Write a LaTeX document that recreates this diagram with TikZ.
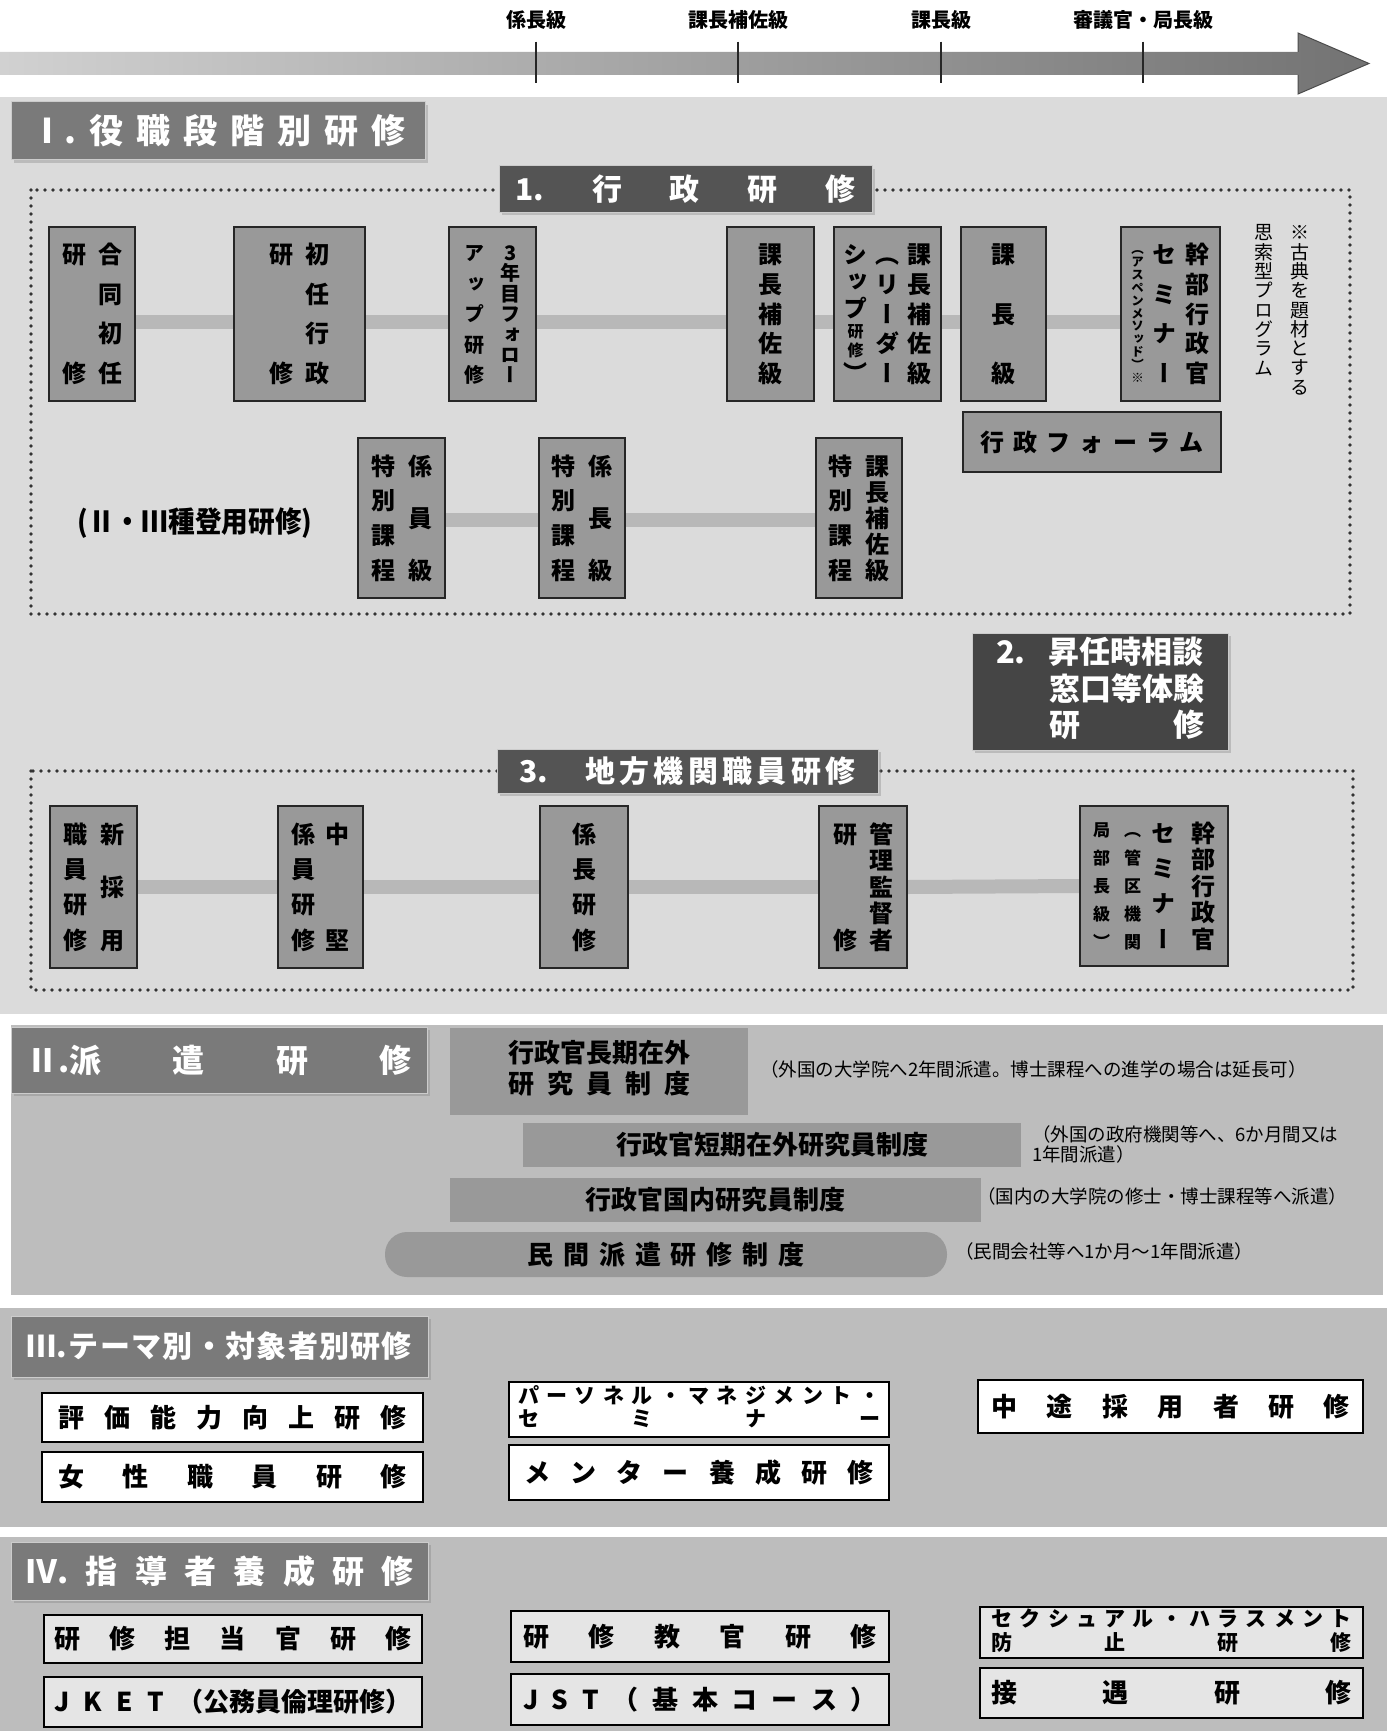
\documentclass[tikz,border=0pt]{standalone}
\usepackage{fontspec}
\usepackage{graphicx}
\setmainfont{Noto Sans CJK JP}
\newfontfamily\vjp{Noto Sans CJK JP}[RawFeature={+vert}]
\usetikzlibrary{shadows}
\pgfdeclarelayer{bglayer}
\pgfdeclarelayer{bandlayer}
\pgfsetlayers{bglayer,bandlayer,main}

\definecolor{secIbg}{gray}{0.86}
\definecolor{secbg}{gray}{0.74}
\definecolor{boxfill}{gray}{0.6}
\definecolor{hdrA}{gray}{0.48}
\definecolor{hdrB}{gray}{0.33}
\definecolor{hdrC}{gray}{0.27}
\definecolor{bandc}{gray}{0.72}
\definecolor{dispfill}{gray}{0.6}
\definecolor{ivfill}{gray}{0.9}
\definecolor{arrowL}{gray}{0.82}
\definecolor{arrowR}{gray}{0.45}

\newcommand\spread[2]{\hbox to #1{#2}}
\newcommand\vfont[1]{\vjp\bfseries\fontsize{#1}{#1}\selectfont}
\newcommand\sm[2]{\fontsize{#1}{#1}\selectfont#2}
\makeatletter
\newdimen\vc@w
\newcommand\vcol[2]{\vc@w=1em\vbox to #1{\offinterlineskip\vc@first#2\relax}}
\def\vc@first#1{\vc@box{#1}\vc@loop}
\def\vc@loop#1{\ifx\relax#1\else\vfill\vc@box{#1}\expandafter\vc@loop\fi}
\def\vc@box#1{\hbox to \vc@w{\hss\begingroup#1\vrule height .88em depth .12em width 0pt\endgroup\hss}}
\makeatother

\tikzset{
 rbox/.style={draw=black!85, line width=1.6pt, fill=boxfill, inner sep=0pt},
 hdr/.style={draw=white!60!gray, line width=1pt, text=white, inner sep=0pt,
   drop shadow={shadow xshift=3pt, shadow yshift=-3pt, opacity=0.35}},
 dbox/.style={fill=dispfill, inner sep=0pt, font=\fontsize{26}{31}\selectfont\bfseries},
 pillbox/.style={dbox, rounded corners=22pt},
 wbox/.style={draw=black, line width=1.5pt, fill=white, inner sep=0pt, font=\fontsize{26}{26}\selectfont\bfseries},
 gbox/.style={wbox, fill=ivfill},
 note/.style={inner sep=0pt, font=\fontsize{18.5}{20}\selectfont},
 band/.style={line width=14pt, draw=bandc},
 dotline/.style={draw=black!80, line width=3.6pt, line cap=round, dash pattern=on 0pt off 8pt},
 ticklab/.style={inner sep=0pt, font=\fontsize{20}{20}\selectfont\bfseries},
 tickline/.style={line width=1.2pt, draw=black!85},
}

\begin{document}
\begin{tikzpicture}[x=1pt,y=-1pt]
\useasboundingbox (0,0) rectangle (1387,1731);

\begin{pgfonlayer}{bglayer}
\fill[white] (0,0) rectangle (1387,1731);
\fill[secIbg] (0,97) rectangle (1387,1014);
\fill[secbg] (11,1025) rectangle (1383,1295);
\fill[secbg] (0,1308) rectangle (1387,1527);
\fill[secbg] (0,1537) rectangle (1387,1731);
\end{pgfonlayer}

% top scale arrow
\shade[left color=arrowL, right color=arrowR] (0,52) -- (1298,52) -- (1298,33) -- (1369,63.5) -- (1298,94) -- (1298,75) -- (0,75) -- cycle;
\draw[black!70, line width=1pt] (1298,52) -- (1298,33) -- (1369,63.5) -- (1298,94) -- (1298,75);
\node[ticklab] (lk1) at (536,20) {係長級};
\node[ticklab] (lk2) at (738,20) {課長補佐級};
\node[ticklab] (lk3) at (941,20) {課長級};
\node[ticklab] (lk4) at (1143,20) {審議官・局長級};
\draw[tickline] (lk1.south) ++(0,12) -- ++(0,41);
\draw[tickline] (lk2.south) ++(0,12) -- ++(0,41);
\draw[tickline] (lk3.south) ++(0,12) -- ++(0,41);
\draw[tickline] (lk4.south) ++(0,12) -- ++(0,41);

% section I
\node[hdr, fill=hdrA, minimum width=414pt, minimum height=58pt, font=\fontsize{34}{34}\selectfont\bfseries] (hI) at (218,131)
  {\spread{376pt}{Ⅰ.\hfill 役\hfill 職\hfill 段\hfill 階\hfill 別\hfill 研\hfill 修}};

\draw[dotline] (31,190) rectangle (1350,614);
\draw[dotline] (31,771) rectangle (1353,990);

\node[hdr, fill=hdrB, minimum width=373pt, minimum height=46pt, font=\fontsize{30}{30}\selectfont\bfseries] (h1) at (685.5,189)
  {\spread{340pt}{1.\hfill 行\hfill 政\hfill 研\hfill 修}};

% row 1
\node[rbox, minimum width=86pt, minimum height=174pt] (a1) at (92,314)
  {\vfont{24}\vcol{140pt}{研修}\hskip12pt\vcol{140pt}{合同初任}};
\node[rbox, minimum width=131pt, minimum height=174pt] (b1) at (299.5,314)
  {\vfont{24}\vcol{140pt}{研修}\hskip12pt\vcol{140pt}{初任行政}};
\node[rbox, minimum width=87pt, minimum height=174pt] (c1) at (492.5,314)
  {\vfont{20}\vcol{140pt}{アップ研修}\hskip16pt\vcol{140pt}{3年目フォロー}};
\node[rbox, minimum width=87pt, minimum height=174pt] (d1) at (770.5,314)
  {\vfont{24}\vcol{140pt}{課長補佐級}};
\node[rbox, minimum width=107pt, minimum height=174pt] (e1) at (887.5,314)
  {\vfont{24}\vcol{140pt}{シップ{\sm{16}{研}}{\sm{16}{修}}）}\hskip8pt\vcol{140pt}{（リーダー}\hskip8pt\vcol{140pt}{課長補佐級}};
\node[rbox, minimum width=85pt, minimum height=174pt] (f1) at (1003.5,314)
  {\vfont{24}\vcol{140pt}{課長級}};
\node[rbox, minimum width=99pt, minimum height=174pt] (g1) at (1170.5,314)
  {\vfont{24}{\vfont{12.5}\vcol{140pt}{（アスペンメソッド）※}}\hskip9pt\vcol{140pt}{セミナー}\hskip9pt\vcol{140pt}{幹部行政官}};
\node[inner sep=0pt, anchor=north] (nt1) at (1300,223) {\vjp\fontsize{19}{19}\selectfont\vcol{171pt}{※古典を題材とする}};
\node[inner sep=0pt, anchor=north] (nt2) at (1264,223) {\vjp\fontsize{19}{19}\selectfont\vcol{152pt}{思索型プログラム}};
\node[rbox, minimum width=258pt, minimum height=60pt, font=\fontsize{24}{24}\selectfont\bfseries] (fo) at (1092,442)
  {\spread{223pt}{行\hfill 政\hfill フ\hfill ォ\hfill ー\hfill ラ\hfill ム}};

% row 2
\node[inner sep=0pt, font=\fontsize{29}{29}\selectfont\bfseries] (r2l) at (195,523) {\scalebox{0.92}[1]{(Ⅱ・Ⅲ種登用研修)}};
\node[rbox, minimum width=87pt, minimum height=160pt] (h2) at (401.5,518)
  {\vfont{24}\vcol{125pt}{特別課程}\hskip13pt\vcol{125pt}{係員級}};
\node[rbox, minimum width=86pt, minimum height=160pt] (i2) at (582,518)
  {\vfont{24}\vcol{125pt}{特別課程}\hskip13pt\vcol{125pt}{係長級}};
\node[rbox, minimum width=86pt, minimum height=160pt] (j2) at (859,518)
  {\vfont{24}\vcol{125pt}{特別課程}\hskip13pt\vcol{125pt}{課長補佐級}};

% box 2
\node[hdr, fill=hdrC, minimum width=256pt, minimum height=117pt, font=\fontsize{31}{32}\selectfont\bfseries] (h2b) at (1100,691.5)
  {\begin{tabular}{@{}l@{}l@{}}\makebox[53pt][l]{2.} & 昇任時相談\\ & 窓口等体験\\ & \spread{155pt}{研\hfill 修}\end{tabular}};

% section 3
\node[hdr, fill=hdrB, minimum width=381pt, minimum height=44pt, font=\fontsize{30}{30}\selectfont\bfseries] (h3) at (687.5,771)
  {\spread{336pt}{3.\hskip 37pt 地\hfill 方\hfill 機\hfill 関\hfill 職\hfill 員\hfill 研\hfill 修}};
\node[rbox, minimum width=87pt, minimum height=162pt] (k3) at (93.5,887)
  {\vfont{24}\vcol{127pt}{職員研修}\hskip13pt\vcol{127pt}{新採用}};
\node[rbox, minimum width=85pt, minimum height=162pt] (l3) at (320.5,887)
  {\vfont{24}\vcol{127pt}{係員研修}\hskip10pt\vcol{127pt}{中堅}};
\node[rbox, minimum width=88pt, minimum height=162pt] (m3) at (584,887)
  {\vfont{24}\vcol{127pt}{係長研修}};
\node[rbox, minimum width=88pt, minimum height=162pt] (p3) at (863,887)
  {\vfont{24}\vcol{127pt}{研修}\hskip12pt\vcol{127pt}{管理監督者}};
\node[rbox, minimum width=148pt, minimum height=160pt] (o3) at (1154,886)
  {\vfont{24}{\vfont{17}\vcol{127pt}{局部長級）}}\hskip14pt{\vfont{17}\vcol{127pt}{（管区機関}}\hskip10pt\vcol{127pt}{セミナー}\hskip16pt\vcol{127pt}{幹部行政官}};

% section II
\node[hdr, fill=hdrA, minimum width=416pt, minimum height=66pt, font=\fontsize{32}{32}\selectfont\bfseries] (hII) at (219,1060)
  {\spread{385pt}{Ⅱ.派\hfill 遣\hfill 研\hfill 修}};
\node[dbox, minimum width=298pt, minimum height=87pt] (s1) at (599,1071.5)
  {\begin{tabular}{@{}c@{}}行政官長期在外\\\spread{182pt}{研\hfill 究\hfill 員\hfill 制\hfill 度}\end{tabular}};
\node[dbox, minimum width=498pt, minimum height=44pt] (s2) at (772,1145) {行政官短期在外研究員制度};
\node[dbox, minimum width=531pt, minimum height=44pt] (s3) at (715.5,1200) {行政官国内研究員制度};
\node[pillbox, minimum width=562pt, minimum height=45pt] (s4) at (666,1254.5)
  {\spread{277pt}{民\hfill 間\hfill 派\hfill 遣\hfill 研\hfill 修\hfill 制\hfill 度}};
\node[note, anchor=west] (note1) at (760,1069) {（外国の大学院へ2年間派遣。博士課程への進学の場合は延長可）};
\node[note, anchor=north west, align=left] (note2) at (1032,1125) {（外国の政府機関等へ、6か月間又は\\1年間派遣）};
\node[note, anchor=west] (note3) at (977,1196) {（国内の大学院の修士・博士課程等へ派遣）};
\node[note, anchor=west] (note4) at (955,1251) {（民間会社等へ1か月〜1年間派遣）};

% section III
\node[hdr, fill=hdrA, minimum width=417pt, minimum height=61pt, font=\fontsize{30}{30}\selectfont\bfseries] (hIII) at (219.5,1346.5)
  {\spread{385pt}{Ⅲ.\hfill テ\hfill ー\hfill マ\hfill 別\hfill ・\hfill 対\hfill 象\hfill 者\hfill 別\hfill 研\hfill 修}};
\node[wbox, minimum width=381pt, minimum height=49pt] (t1) at (232.5,1417.5)
  {\spread{349pt}{評\hfill 価\hfill 能\hfill 力\hfill 向\hfill 上\hfill 研\hfill 修}};
\node[wbox, minimum width=381pt, minimum height=50pt] (t2) at (232.5,1477)
  {\spread{349pt}{女\hfill 性\hfill 職\hfill 員\hfill 研\hfill 修}};
\node[wbox, minimum width=380pt, minimum height=55pt, font=\fontsize{21}{21}\selectfont\bfseries] (t3) at (699,1409.5)
  {\begin{tabular}{@{}c@{}}\spread{362pt}{パ\hfill ー\hfill ソ\hfill ネ\hfill ル\hfill ・\hfill マ\hfill ネ\hfill ジ\hfill メ\hfill ン\hfill ト\hfill ・}\\\spread{362pt}{セ\hfill ミ\hfill ナ\hfill ー}\end{tabular}};
\node[wbox, minimum width=380pt, minimum height=55pt] (t4) at (699,1472.5)
  {\spread{350pt}{メ\hfill ン\hfill タ\hfill ー\hfill 養\hfill 成\hfill 研\hfill 修}};
\node[wbox, minimum width=385pt, minimum height=53pt] (t5) at (1170.5,1406.5)
  {\spread{359pt}{中\hfill 途\hfill 採\hfill 用\hfill 者\hfill 研\hfill 修}};

% section IV
\node[hdr, fill=hdrA, minimum width=417pt, minimum height=58pt, font=\fontsize{32}{32}\selectfont\bfseries] (hIV) at (219.5,1571)
  {\spread{389pt}{Ⅳ.\hfill 指\hfill 導\hfill 者\hfill 養\hfill 成\hfill 研\hfill 修}};
\node[gbox, minimum width=378pt, minimum height=48pt] (u1) at (233,1639)
  {\spread{358pt}{研\hfill 修\hfill 担\hfill 当\hfill 官\hfill 研\hfill 修}};
\node[gbox, minimum width=378pt, minimum height=50pt] (u2) at (233,1702)
  {\spread{358pt}{J\hfill K\hfill E\hfill T\hfill （公務員倫理研修）}};
\node[gbox, minimum width=378pt, minimum height=51pt] (u3) at (700,1636.5)
  {\spread{354pt}{研\hfill 修\hfill 教\hfill 官\hfill 研\hfill 修}};
\node[gbox, minimum width=378pt, minimum height=51pt] (u4) at (700,1699.5)
  {\spread{354pt}{J\hfill S\hfill T\hfill （\hfill 基\hfill 本\hfill コ\hfill ー\hfill ス\hfill ）}};
\node[gbox, minimum width=383pt, minimum height=51pt, font=\fontsize{21}{21}\selectfont\bfseries] (u5) at (1171.5,1632.5)
  {\begin{tabular}{@{}c@{}}\spread{360pt}{セ\hfill ク\hfill シ\hfill ュ\hfill ア\hfill ル\hfill ・\hfill ハ\hfill ラ\hfill ス\hfill メ\hfill ン\hfill ト}\\\spread{360pt}{防\hfill 止\hfill 研\hfill 修}\end{tabular}};
\node[gbox, minimum width=383pt, minimum height=50pt] (u6) at (1171.5,1693)
  {\spread{360pt}{接\hfill 遇\hfill 研\hfill 修}};

% connecting bands
\begin{pgfonlayer}{bandlayer}
\draw[band] ([yshift=-8pt]a1.east) -- ([yshift=-8pt]b1.west);
\draw[band] ([yshift=-8pt]b1.east) -- ([yshift=-8pt]c1.west);
\draw[band] ([yshift=-8pt]c1.east) -- ([yshift=-8pt]d1.west);
\draw[band] ([yshift=-8pt]d1.east) -- ([yshift=-8pt]e1.west);
\draw[band] ([yshift=-8pt]e1.east) -- ([yshift=-8pt]f1.west);
\draw[band] ([yshift=-8pt]f1.east) -- ([yshift=-8pt]g1.west);
\draw[band] ([yshift=-2pt]h2.east) -- ([yshift=-2pt]i2.west);
\draw[band] ([yshift=-2pt]i2.east) -- ([yshift=-2pt]j2.west);
\draw[band] (k3.east) -- (l3.west);
\draw[band] (l3.east) -- (m3.west);
\draw[band] (m3.east) -- (p3.west);
\draw[band] (p3.east) -- (o3.west);
\end{pgfonlayer}
\end{tikzpicture}
\end{document}
